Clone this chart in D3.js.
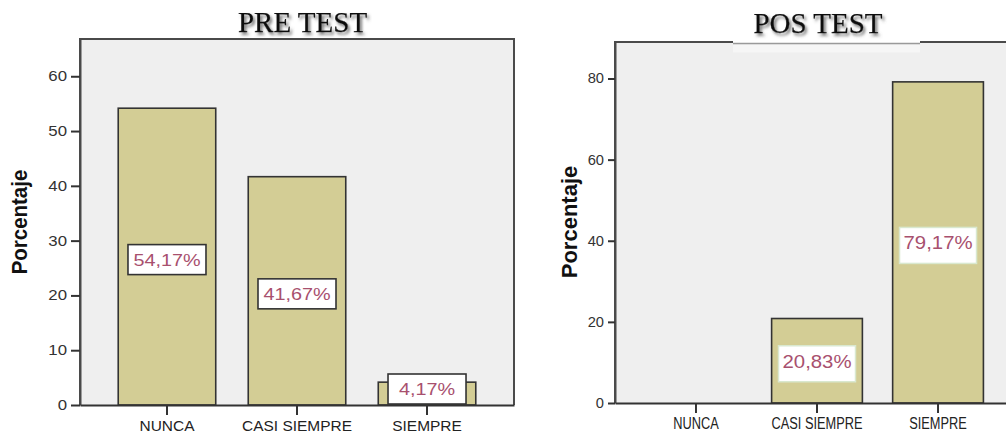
<!DOCTYPE html>
<html>
<head>
<meta charset="utf-8">
<script src="https://cdn.jsdelivr.net/npm/d3@7"></script>
<style>
  html, body { margin: 0; padding: 0; background: #ffffff; }
  svg { display: block; }
</style>
</head>
<body>
<svg id="chart" width="1006" height="434"></svg>
<script>
// Response categories shared by both charts
const categories = ["NUNCA", "CASI SIEMPRE", "SIEMPRE"];

// Percentage of respondents per category
const preValues = [54.17, 41.67, 4.17];
const postValues = [0, 20.83, 79.17];

// Value-axis ticks for each chart
const preTicks = [0, 10, 20, 30, 40, 50, 60];
const postTicks = [0, 20, 40, 60, 80];

const titles = ["PRE TEST", "POS TEST"];
const axisTitle = "Porcentaje";

const SANS = "'Liberation Sans', Arial, sans-serif";
const SERIF = "'Liberation Serif', 'Times New Roman', serif";
const BAR_FILL = "#d3cd95";
const PLOT_BG = "#efefef";
const FRAME = "#4a4a4a";
const LABEL_TEXT = "#a8506e";

const svg = d3.select("#chart");

// Soft shadow used behind the titles
const defs = svg.append("defs");
const shadow = defs.append("filter").attr("id", "titleShadow")
  .attr("x", "-10%").attr("y", "-30%").attr("width", "130%").attr("height", "170%");
shadow.append("feDropShadow")
  .attr("dx", 2).attr("dy", 2.5).attr("stdDeviation", 1.5)
  .attr("flood-color", "#555").attr("flood-opacity", 0.85);

// Stretch or squeeze text horizontally by a factor of its natural width
function stretch(sel, factor) {
  sel.each(function () {
    const w = this.getComputedTextLength();
    d3.select(this).attr("textLength", w * factor).attr("lengthAdjust", "spacingAndGlyphs");
  });
}

function drawChart(cfg) {
  const g = svg.append("g");
  const { x0, x1, y0, y1 } = cfg.frame;

  const x = d3.scaleBand().domain(categories).range([x0, x1])
    .paddingInner(0.25).paddingOuter(0.294);
  const y = d3.scaleLinear().domain([0, cfg.yMax]).range([y1, y0]);

  // plot background
  g.append("rect")
    .attr("x", x0).attr("y", y0)
    .attr("width", x1 - x0).attr("height", y1 - y0)
    .attr("fill", PLOT_BG);

  // bars
  const data = categories.map((c, i) => ({ cat: c, v: cfg.values[i] }));
  g.selectAll("rect.bar").data(data.filter(d => d.v > 0)).join("rect")
    .attr("class", "bar")
    .attr("x", d => x(d.cat))
    .attr("y", d => y(d.v))
    .attr("width", x.bandwidth())
    .attr("height", d => y(0) - y(d.v))
    .attr("fill", BAR_FILL)
    .attr("stroke", "#333")
    .attr("stroke-width", 1.6);

  // frame
  g.append("path")
    .attr("d", `M${x0},${y1} L${x0},${y0} L${x1},${y0} L${x1},${y1}`)
    .attr("fill", "none").attr("stroke", FRAME).attr("stroke-width", 2);

  // y axis
  const yAxis = g.append("g")
    .attr("transform", `translate(${x0},0)`)
    .call(d3.axisLeft(y).tickValues(cfg.ticks).tickSize(cfg.yTickLen).tickSizeOuter(0)
      .tickPadding(4).tickFormat(d3.format("d")));
  yAxis.select(".domain").attr("stroke", FRAME).attr("stroke-width", 2);
  yAxis.selectAll(".tick line").attr("stroke", "#333").attr("stroke-width", 2);
  yAxis.selectAll(".tick text")
    .attr("fill", "#333").style("font-family", SANS).style("font-size", "14px")
    .call(stretch, cfg.yTextStretch);

  // x axis
  const xAxis = g.append("g")
    .attr("transform", `translate(0,${y1})`)
    .call(d3.axisBottom(x).tickSize(10).tickSizeOuter(0).tickPadding(5));
  xAxis.select(".domain").attr("stroke", "#333").attr("stroke-width", 2);
  xAxis.selectAll(".tick line").attr("stroke", "#333").attr("stroke-width", 2);
  xAxis.selectAll(".tick text")
    .attr("fill", "#222").style("font-family", SANS).style("font-size", cfg.xFont + "px")
    .attr("dy", "0.71em")
    .call(stretch, cfg.xTextStretch);

  // value labels
  const lab = g.selectAll("g.vlabel").data(data.filter(d => d.v > 0)).join("g")
    .attr("class", "vlabel")
    .attr("transform", d => {
      const cx = x(d.cat) + x.bandwidth() / 2;
      let cy = (y(d.v) + y(0)) / 2 + 3;
      cy = Math.min(cy, y(0) - 1 - cfg.box.h / 2);
      return `translate(${cx},${cy})`;
    });
  lab.append("rect")
    .attr("x", -cfg.box.w / 2).attr("y", -cfg.box.h / 2)
    .attr("width", cfg.box.w).attr("height", cfg.box.h)
    .attr("fill", "#ffffff")
    .attr("stroke", cfg.box.stroke).attr("stroke-width", cfg.box.sw);
  lab.append("text")
    .attr("text-anchor", "middle")
    .attr("y", cfg.box.textDy)
    .attr("fill", LABEL_TEXT)
    .style("font-family", SANS).style("font-size", cfg.box.font + "px")
    .text(d => d.v.toFixed(2).replace(".", ",") + "%")
    .call(stretch, cfg.box.stretch);

  // axis title
  g.append("text")
    .attr("transform", "rotate(-90)")
    .attr("x", -cfg.axisTitle.cy).attr("y", cfg.axisTitle.bx)
    .attr("text-anchor", "middle")
    .attr("fill", "#111")
    .style("font-family", SANS).style("font-weight", "bold").style("font-size", "22px")
    .text(axisTitle)
    .call(stretch, cfg.axisTitle.stretch);

  // chart title
  if (cfg.titleBox) {
    const b = cfg.titleBox;
    g.append("rect").attr("x", b.x0).attr("y", 0).attr("width", b.x1 - b.x0).attr("height", y0 + 1)
      .attr("fill", "#ffffff");
    g.append("rect").attr("x", b.x0).attr("y", y0 + 2.5).attr("width", b.x1 - b.x0).attr("height", 8)
      .attr("fill", "#f6f6f6");
    g.append("line").attr("x1", b.x0).attr("x2", b.x1).attr("y1", y0 + 1.5).attr("y2", y0 + 1.5)
      .attr("stroke", "#9a9a9a").attr("stroke-width", 1.6);
  }
  g.append("text")
    .attr("x", cfg.title.x).attr("y", cfg.title.y)
    .attr("text-anchor", "middle")
    .attr("fill", "#111")
    .attr("stroke", "#111").attr("stroke-width", 0.25)
    .attr("filter", "url(#titleShadow)")
    .style("font-family", SERIF).style("font-size", "29px")
    .text(cfg.title.text);
}

drawChart({
  frame: { x0: 80, x1: 514, y0: 39, y1: 405 },
  yMax: 66.8,
  ticks: preTicks,
  values: preValues,
  yTickLen: 9,
  yTextStretch: 1.2,
  xFont: 15,
  xTextStretch: 1.03,
  box: { w: 78, h: 30, stroke: "#333", sw: 1.6, font: 16.5, stretch: 1.2, textDy: 6 },
  axisTitle: { cy: 222, bx: 27, stretch: 0.93 },
  title: { x: 302.5, y: 32, text: titles[0] }
});

drawChart({
  frame: { x0: 615, x1: 1019, y0: 42, y1: 403 },
  yMax: 89,
  ticks: postTicks,
  values: postValues,
  yTickLen: 7,
  yTextStretch: 1.05,
  xFont: 16,
  xTextStretch: 0.8,
  box: { w: 77, h: 36, stroke: "#d9e8cf", sw: 1.5, font: 18.5, stretch: 1.1, textDy: 4 },
  axisTitle: { cy: 222, bx: 577, stretch: 1.0 },
  title: { x: 818, y: 33, text: titles[1] },
  titleBox: { x0: 733, x1: 920 }
});
</script>
</body>
</html>
